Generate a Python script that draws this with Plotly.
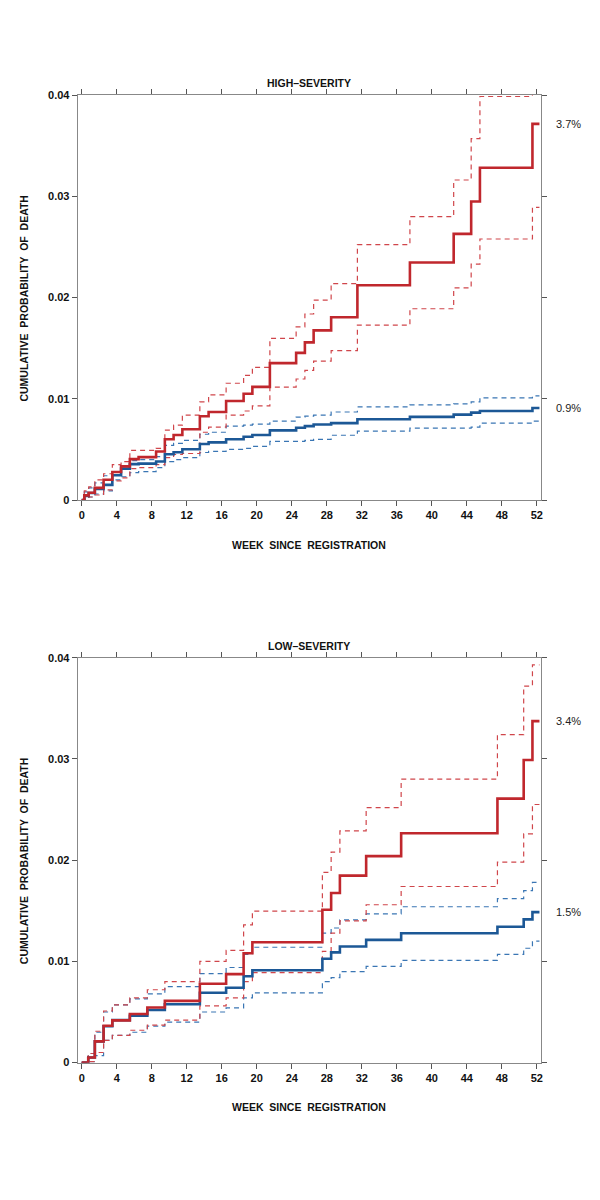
import plotly.graph_objects as go

# ---------------- data ----------------
weeks_high = [0, 0.3, 0.8, 1.5, 2.5, 3.5, 4.5, 5.5, 6.5, 8.5, 9.5, 10.5, 11.5, 13.5, 14.5,
              16.5, 18.5, 19.5, 21.5, 24.5, 25.5, 26.5, 28.5, 31.5, 37.5, 42.5, 44.5, 45.5, 51.5, 52.3]
high_red = [0, 0.00046, 0.00072, 0.0012, 0.002, 0.00277, 0.00333, 0.00404, 0.00424, 0.00479, 0.006,
            0.00642, 0.007, 0.00828, 0.0087, 0.00978, 0.0105, 0.01118, 0.01353, 0.01454, 0.01558,
            0.01676, 0.01806, 0.02122, 0.02347, 0.0263, 0.0295, 0.03283, 0.03716, 0.03716]
high_red_up = [0, 0.0009, 0.0013, 0.002, 0.0026, 0.0035, 0.0038, 0.0049, 0.0049, 0.0051, 0.0069,
               0.0074, 0.0084, 0.0097, 0.0104, 0.01154, 0.01232, 0.0131, 0.01597, 0.01711, 0.01838,
               0.01976, 0.02139, 0.02523, 0.028, 0.03162, 0.0357, 0.03987, 0.045, 0.045]
high_red_lo = [0, 0.0001, 0.0003, 0.0005, 0.001, 0.0019, 0.0022, 0.0031, 0.0032, 0.0035, 0.0042,
               0.0045, 0.0046, 0.0067, 0.0072, 0.0084, 0.0088, 0.0093, 0.01115, 0.01196, 0.01281,
               0.01372, 0.01477, 0.01728, 0.0189, 0.02096, 0.0233, 0.02579, 0.02892, 0.02892]
high_blue = [0, 0.0004, 0.0007, 0.0011, 0.0015, 0.00245, 0.0031, 0.00355, 0.0036, 0.00381, 0.00453,
             0.00473, 0.00502, 0.00554, 0.0057, 0.006, 0.00626, 0.00642, 0.00688, 0.00714, 0.0073,
             0.00747, 0.0076, 0.00799, 0.00822, 0.00844, 0.00864, 0.0088, 0.0091, 0.0091]
high_blue_up = [0, 0.0008, 0.0012, 0.0017, 0.0024, 0.0028, 0.0033, 0.0039, 0.004, 0.0043, 0.0054,
                0.0056, 0.0059, 0.0065, 0.0067, 0.0073, 0.0074, 0.0075, 0.0078, 0.0082, 0.0083,
                0.0084, 0.0087, 0.0092, 0.0094, 0.0095, 0.0097, 0.0101, 0.0103, 0.0103]
high_blue_lo = [0, 0.0001, 0.0003, 0.0006, 0.0009, 0.002, 0.0023, 0.0027, 0.0028, 0.0032, 0.0038,
                0.004, 0.0042, 0.0047, 0.0048, 0.005, 0.0051, 0.0053, 0.0058, 0.0058, 0.0059,
                0.006, 0.0064, 0.0068, 0.0071, 0.0071, 0.0072, 0.0076, 0.0078, 0.0078]

weeks_low = [0, 0.75, 1.5, 2.5, 3.5, 5.5, 7.5, 9.5, 13.5, 16.5, 18.5, 19.5, 27.5, 28.5, 29.5,
             32.5, 36.5, 47.5, 50.5, 51.5, 52.3]
low_red = [0, 0.0005, 0.0021, 0.00365, 0.00417, 0.0048, 0.00544, 0.0061, 0.00779, 0.00874, 0.0108,
           0.0119, 0.0151, 0.01676, 0.01848, 0.0204, 0.02266, 0.02608, 0.0299, 0.03374, 0.03374]
low_red_up = [0, 0.0009, 0.0031, 0.0051, 0.0057, 0.0064, 0.0072, 0.008, 0.01, 0.0111, 0.0136,
              0.01496, 0.0188, 0.0208, 0.0229, 0.0252, 0.028, 0.0324, 0.0372, 0.0393, 0.0393]
low_red_lo = [0, 0.0001, 0.001, 0.0022, 0.0027, 0.0032, 0.0037, 0.0042, 0.0056, 0.0064, 0.008,
              0.0089, 0.011, 0.0128, 0.014, 0.0156, 0.0174, 0.0198, 0.0226, 0.0255, 0.0255]
low_blue = [0, 0.0005, 0.0021, 0.0036, 0.0042, 0.00463, 0.0052, 0.00577, 0.0069, 0.0074, 0.00854,
            0.00913, 0.01027, 0.01089, 0.01148, 0.01213, 0.01278, 0.01343, 0.01415, 0.01487, 0.01487]
low_blue_up = [0, 0.0009, 0.003, 0.005, 0.0057, 0.0063, 0.0068, 0.0075, 0.0088, 0.0094, 0.0107,
               0.0114, 0.0128, 0.0133, 0.0141, 0.0147, 0.0154, 0.0162, 0.017, 0.0178, 0.0178]
low_blue_lo = [0, 0.0001, 0.0007, 0.0022, 0.0027, 0.003, 0.0036, 0.004, 0.005, 0.0054, 0.0064,
               0.0069, 0.008, 0.0084, 0.009, 0.0095, 0.0101, 0.0107, 0.0113, 0.012, 0.012]

x_ticks = list(range(0, 53, 4))
y_ticks = [0, 0.01, 0.02, 0.03, 0.04]
y_tick_text = ["0", "0.01", "0.02", "0.03", "0.04"]
panel_titles = ["HIGH\u2013SEVERITY", "LOW\u2013SEVERITY"]
end_labels_high = ["3.7%", "0.9%"]
end_labels_low = ["3.4%", "1.5%"]

RED = "#c0272d"
RED_D = "#d0464b"
BLUE = "#1c5896"
BLUE_D = "#3a76b4"

fig = go.Figure()

panels = [
    ("x", "y", weeks_high, high_red, high_red_up, high_red_lo, high_blue, high_blue_up, high_blue_lo),
    ("x2", "y2", weeks_low, low_red, low_red_up, low_red_lo, low_blue, low_blue_up, low_blue_lo),
]
for xa, ya, wk, r, ru, rl, b, bu, bl in panels:
    for vals, col in [(bu, BLUE_D), (bl, BLUE_D), (ru, RED_D), (rl, RED_D)]:
        fig.add_trace(go.Scatter(x=wk, y=vals, mode="lines", line_shape="hv", xaxis=xa, yaxis=ya,
                                 line=dict(color=col, width=1.2, dash="5px,4px"),
                                 showlegend=False, hoverinfo="skip"))
    for vals, col in [(b, BLUE), (r, RED)]:
        fig.add_trace(go.Scatter(x=wk, y=vals, mode="lines", line_shape="hv", xaxis=xa, yaxis=ya,
                                 line=dict(color=col, width=2.6),
                                 showlegend=False, hoverinfo="skip"))

# page body has an 8px margin: lay the figure out in window pixels shifted by it
OFF = 8
W, H = 600 - OFF, 1200 - OFF

def px(x):
    return (x - OFF) / W

def py(y):
    return (H - (y - OFF)) / H

xdom = [px(78), px(543)]
top_dom = [py(499), py(90)]
bot_dom = [py(1067.3), py(658.3)]

tickfont = dict(family="Liberation Sans, Arial, sans-serif", size=11, color="#111", weight="bold")

def xaxis_cfg(anchor):
    return dict(domain=xdom, anchor=anchor, range=[-0.45, 52.5], tickvals=x_ticks,
                ticks="outside", ticklen=5, tickcolor="#555", mirror="ticks", showline=True,
                linecolor="#888", linewidth=1.2, showgrid=False, zeroline=False, tickfont=tickfont)

def yaxis_cfg(dom, anchor):
    return dict(domain=dom, anchor=anchor, range=[0, 0.04], tickvals=y_ticks, ticktext=y_tick_text,
                ticks="outside", ticklen=5, tickcolor="#555", mirror="ticks", showline=True,
                linecolor="#888", linewidth=1.2, showgrid=False, zeroline=False, tickfont=tickfont)

title_font = dict(family="Liberation Sans, Arial, sans-serif", size=10.5, color="#111", weight="bold")
label_font = dict(family="Liberation Sans, Arial, sans-serif", size=11, color="#222")

annotations = []
for i, (top_px, bot_px) in enumerate([(90, 499), (658.3, 1067.3)]):
    annotations.append(dict(text=panel_titles[i], xref="paper", yref="paper", x=px(310),
                            y=py(top_px - 12), xanchor="center", yanchor="middle",
                            showarrow=False, font=title_font))
    annotations.append(dict(text="WEEK  SINCE  REGISTRATION", xref="paper", yref="paper", x=px(310),
                            y=py(bot_px + 45), xanchor="center", yanchor="middle",
                            showarrow=False, font=title_font))
    annotations.append(dict(text="CUMULATIVE  PROBABILITY  OF  DEATH", xref="paper", yref="paper",
                            x=px(24), y=py((top_px + bot_px) / 2), xanchor="center", yanchor="middle",
                            textangle=-90, showarrow=False, font=title_font))

for lbl, val in zip(end_labels_high, [high_red[-1], high_blue[-1]]):
    annotations.append(dict(text=lbl, xref="paper", yref="y", x=px(556), y=val, xanchor="left",
                            yanchor="middle", showarrow=False, font=label_font))
for lbl, val in zip(end_labels_low, [low_red[-1], low_blue[-1]]):
    annotations.append(dict(text=lbl, xref="paper", yref="y2", x=px(556), y=val, xanchor="left",
                            yanchor="middle", showarrow=False, font=label_font))

fig.update_layout(
    width=W, height=H, margin=dict(l=0, r=0, t=0, b=0),
    paper_bgcolor="white", plot_bgcolor="white", showlegend=False,
    xaxis=xaxis_cfg("y"), yaxis=yaxis_cfg(top_dom, "x"),
    xaxis2=xaxis_cfg("y2"), yaxis2=yaxis_cfg(bot_dom, "x2"),
    annotations=annotations,
)

fig.write_html("out.html")
